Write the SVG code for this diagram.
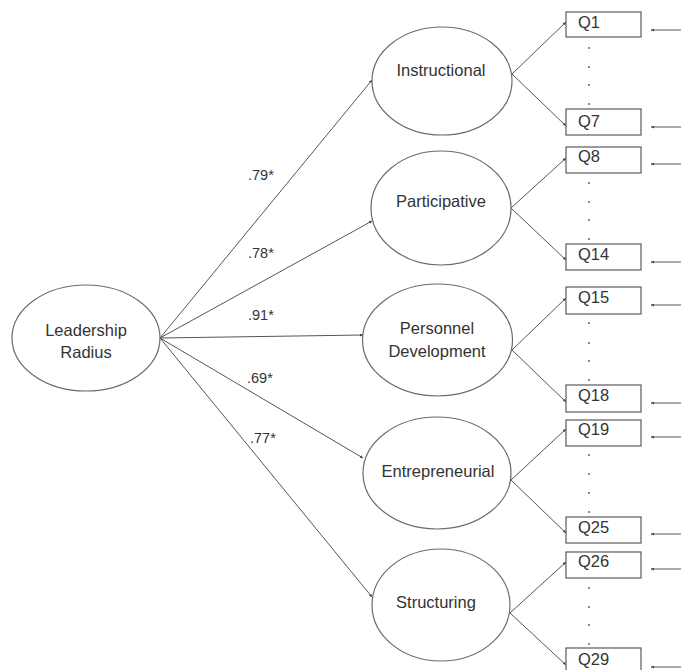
<svg xmlns="http://www.w3.org/2000/svg" width="681" height="670" viewBox="0 0 681 670">
<style>
  .bg{fill:#ffffff}
  .ell{fill:#ffffff;stroke:#6a6a6a;stroke-width:1.2}
  .box{fill:#ffffff;stroke:#5a5a5a;stroke-width:1.2}
  .t{font-family:"Liberation Sans",Arial,sans-serif;font-size:16.5px;fill:#333333}
  .tm{text-anchor:middle}
  .lab{font-family:"Liberation Sans",Arial,sans-serif;font-size:14.5px;fill:#333333}
  .ln{stroke:#555555;stroke-width:1;fill:none;marker-end:url(#ah)}
  .dot{fill:#555555}
</style>
<defs>
  <marker id="ah" viewBox="0 0 6 6" refX="6" refY="3" markerWidth="3" markerHeight="3" orient="auto" markerUnits="strokeWidth">
    <path d="M0,0 L6,3 L0,6 z" fill="#444444"/>
  </marker>
</defs>
<rect class="bg" x="0" y="0" width="681" height="670"/>

<g id="connectors">
  <line class="ln" x1="160" y1="338" x2="372" y2="80"/>
  <line class="ln" x1="160" y1="338" x2="372" y2="221"/>
  <line class="ln" x1="160" y1="338" x2="363" y2="335"/>
  <line class="ln" x1="160" y1="338" x2="363" y2="458"/>
  <line class="ln" x1="160" y1="338" x2="372" y2="597"/>

  <line class="ln" x1="512" y1="74" x2="566" y2="22"/>
  <line class="ln" x1="512" y1="74" x2="566" y2="126"/>
  <line class="ln" x1="511" y1="208" x2="566" y2="158"/>
  <line class="ln" x1="511" y1="208" x2="566" y2="260"/>
  <line class="ln" x1="512" y1="350" x2="566" y2="298"/>
  <line class="ln" x1="512" y1="350" x2="566" y2="402"/>
  <line class="ln" x1="511" y1="480" x2="566" y2="429"/>
  <line class="ln" x1="511" y1="480" x2="566" y2="533"/>
  <line class="ln" x1="510" y1="613" x2="566" y2="562"/>
  <line class="ln" x1="510" y1="613" x2="566" y2="665"/>

  <line class="ln" x1="681" y1="30" x2="651" y2="30"/>
  <line class="ln" x1="681" y1="127" x2="651" y2="127"/>
  <line class="ln" x1="681" y1="164" x2="651" y2="164"/>
  <line class="ln" x1="681" y1="262" x2="651" y2="262"/>
  <line class="ln" x1="681" y1="305" x2="651" y2="305"/>
  <line class="ln" x1="681" y1="403" x2="651" y2="403"/>
  <line class="ln" x1="681" y1="437" x2="651" y2="437"/>
  <line class="ln" x1="681" y1="534" x2="651" y2="534"/>
  <line class="ln" x1="681" y1="569" x2="651" y2="569"/>
  <line class="ln" x1="681" y1="667" x2="651" y2="667"/>
</g>

<g id="labels">
  <text class="lab" x="248" y="180">.79*</text>
  <text class="lab" x="248" y="258">.78*</text>
  <text class="lab" x="248" y="320">.91*</text>
  <text class="lab" x="247" y="383">.69*</text>
  <text class="lab" x="250" y="443">.77*</text>
</g>

<g id="leadership">
  <ellipse class="ell" cx="86" cy="338" rx="74" ry="53"/>
  <text class="t tm" x="86" y="336">Leadership</text>
  <text class="t tm" x="86" y="358">Radius</text>
</g>
<g id="instructional">
  <ellipse class="ell" cx="442" cy="81" rx="70" ry="54"/>
  <text class="t tm" x="441" y="76">Instructional</text>
</g>
<g id="participative">
  <ellipse class="ell" cx="441" cy="208" rx="70" ry="57"/>
  <text class="t tm" x="441" y="207">Participative</text>
</g>
<g id="personnel">
  <ellipse class="ell" cx="437.5" cy="340" rx="75" ry="56"/>
  <text class="t tm" x="437" y="334">Personnel</text>
  <text class="t tm" x="437" y="357">Development</text>
</g>
<g id="entrepreneurial">
  <ellipse class="ell" cx="437" cy="473" rx="74" ry="56"/>
  <text class="t tm" x="438" y="477">Entrepreneurial</text>
</g>
<g id="structuring">
  <ellipse class="ell" cx="441" cy="605" rx="69" ry="56"/>
  <text class="t tm" x="436" y="608">Structuring</text>
</g>

<g id="q1"><rect class="box" x="566" y="12" width="75" height="25"/><text class="t" x="578" y="28">Q1</text></g>
<g id="q7"><rect class="box" x="566" y="109" width="75" height="26"/><text class="t" x="578" y="127">Q7</text></g>
<g id="q8"><rect class="box" x="566" y="147" width="75" height="26"/><text class="t" x="578" y="162">Q8</text></g>
<g id="q14"><rect class="box" x="566" y="244" width="75" height="26"/><text class="t" x="578" y="260">Q14</text></g>
<g id="q15"><rect class="box" x="566" y="287" width="75" height="27"/><text class="t" x="578" y="303">Q15</text></g>
<g id="q18"><rect class="box" x="566" y="385" width="75" height="27"/><text class="t" x="578" y="401">Q18</text></g>
<g id="q19"><rect class="box" x="566" y="420" width="75" height="26"/><text class="t" x="578" y="435">Q19</text></g>
<g id="q25"><rect class="box" x="566" y="517" width="75" height="26"/><text class="t" x="578" y="533">Q25</text></g>
<g id="q26"><rect class="box" x="566" y="552" width="75" height="26"/><text class="t" x="578" y="567">Q26</text></g>
<g id="q29"><rect class="box" x="566" y="648" width="75" height="26"/><text class="t" x="578" y="665">Q29</text></g>

<g id="dots">
  <circle class="dot" cx="589" cy="48" r="0.9"/><circle class="dot" cx="589" cy="67" r="0.9"/><circle class="dot" cx="589" cy="85" r="0.9"/><circle class="dot" cx="589" cy="104" r="0.9"/>
  <circle class="dot" cx="589" cy="183" r="0.9"/><circle class="dot" cx="589" cy="202" r="0.9"/><circle class="dot" cx="589" cy="220" r="0.9"/><circle class="dot" cx="589" cy="239" r="0.9"/>
  <circle class="dot" cx="589" cy="323" r="0.9"/><circle class="dot" cx="589" cy="343" r="0.9"/><circle class="dot" cx="589" cy="361" r="0.9"/><circle class="dot" cx="589" cy="380" r="0.9"/>
  <circle class="dot" cx="589" cy="455" r="0.9"/><circle class="dot" cx="589" cy="474" r="0.9"/><circle class="dot" cx="589" cy="493" r="0.9"/><circle class="dot" cx="589" cy="512" r="0.9"/>
  <circle class="dot" cx="589" cy="588" r="0.9"/><circle class="dot" cx="589" cy="607" r="0.9"/><circle class="dot" cx="589" cy="625" r="0.9"/><circle class="dot" cx="589" cy="644" r="0.9"/>
</g>
</svg>
